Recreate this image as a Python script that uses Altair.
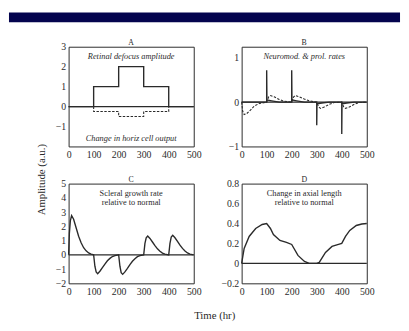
import altair as alt
import pandas as pd

FONT = "Liberation Serif"
INK = "#2a2a2a"
NAVY = "#04044e"
W, H = 128, 102

X_TICKS = [0, 100, 200, 300, 400, 500]
BASE_T = [0, 500]
BASE_V = [0, 0]

# Panel A: retinal defocus (solid) and horizontal cell output (dashed)
A_T = [0, 100, 100, 200, 200, 300, 300, 400, 400, 500]
A_V = [0, 0, 1, 1, 2, 2, 1, 1, 0, 0]
A_DT = [100, 100, 200, 200, 300, 300, 400, 400]
A_DV = [0, -0.25, -0.25, -0.5, -0.5, -0.25, -0.25, 0]
A_TICKS = [-1, 0, 1, 2, 3]

# Panel B: neuromodulator (solid spikes) and proliferation (dashed)
B_T = [0, 100, 100, 101, 120, 150, 200, 200, 201, 220, 250, 300, 300, 301, 320, 350,
       400, 400, 401, 420, 450, 500]
B_V = [0, 0, 0.72, 0.05, 0.03, 0, 0, 0.72, 0.05, 0.03, 0, 0, -0.52, -0.04, -0.02, 0,
       0, -0.72, -0.04, -0.02, 0, 0]
B_DT = [0, 4, 10, 20, 35, 50, 70, 100, 108, 115, 130, 150, 170, 200, 208, 215, 230,
        250, 270, 300, 308, 315, 330, 350, 370, 400, 408, 415, 430, 450, 470, 500]
B_DV = [0, -0.2, -0.28, -0.26, -0.18, -0.09, -0.03, 0, 0.12, 0.15, 0.12, 0.06, 0.02,
        0, 0.12, 0.15, 0.12, 0.07, 0.03, 0, -0.11, -0.14, -0.11, -0.05, -0.01,
        0, -0.11, -0.14, -0.11, -0.05, -0.01, 0]
B_TICKS = [-1, 0, 1]

# Panel C: scleral growth rate
C_T = [0, 3, 7, 12, 20, 30, 40, 50, 60, 70, 80, 90, 100,
       105, 110, 116, 125, 135, 145, 155, 165, 175, 185, 200,
       205, 210, 216, 225, 235, 245, 255, 265, 275, 285, 300,
       305, 310, 316, 325, 335, 345, 355, 365, 375, 385, 400,
       405, 410, 416, 425, 435, 445, 455, 465, 475, 485, 500]
C_V = [0, 1.5, 2.4, 2.75, 2.5, 1.9, 1.3, 0.85, 0.5, 0.28, 0.13, 0.05, 0,
       -0.8, -1.2, -1.32, -1.15, -0.9, -0.65, -0.42, -0.25, -0.12, -0.05, 0,
       -0.8, -1.25, -1.37, -1.2, -0.95, -0.68, -0.45, -0.27, -0.13, -0.05, 0,
       0.8, 1.2, 1.32, 1.15, 0.9, 0.65, 0.42, 0.25, 0.12, 0.05, 0,
       0.8, 1.25, 1.37, 1.2, 0.95, 0.68, 0.45, 0.27, 0.13, 0.05, 0]
C_TICKS = [-2, -1, 0, 1, 2, 3, 4, 5]

# Panel D: change in axial length
D_T = [0, 10, 30, 56, 82, 100, 115, 127, 153, 179, 200, 225, 251, 270, 300, 310,
       335, 361, 387, 400, 415, 432, 458, 480, 500]
D_V = [0, 0.15, 0.27, 0.35, 0.39, 0.40, 0.35, 0.29, 0.23, 0.21, 0.19, 0.08, 0.02,
       0.0, 0.0, 0.01, 0.11, 0.17, 0.19, 0.2, 0.27, 0.33, 0.38, 0.395, 0.40]
D_TICKS = [-0.2, 0, 0.2, 0.4, 0.6, 0.8]


def frame(ts, vs):
    return pd.DataFrame({"t": ts, "v": vs, "i": list(range(len(ts)))})


def note(txt, px, py, size, italic):
    return (alt.Chart(pd.DataFrame({"label": [txt]}))
            .mark_text(font=FONT, fontSize=size, color=INK,
                       fontStyle="italic" if italic else "normal")
            .encode(x=alt.value(px), y=alt.value(py), text="label:N"))


def panel(letter, solid, dashed, ydom, yticks, fmt, notes, italic):
    x = alt.X("t:Q", scale=alt.Scale(domain=[0, 500], nice=False),
              axis=alt.Axis(values=X_TICKS, title=None))
    y = alt.Y("v:Q", scale=alt.Scale(domain=ydom, nice=False, zero=False),
              axis=alt.Axis(values=yticks, title=None, format=fmt))
    layers = [
        alt.Chart(frame(BASE_T, BASE_V)).mark_line(color=INK, strokeWidth=1.3)
        .encode(x=x, y=y, order="i:Q"),
        alt.Chart(frame(*solid)).mark_line(color=INK, strokeWidth=1.4)
        .encode(x=x, y=y, order="i:Q"),
    ]
    if dashed is not None:
        layers.append(
            alt.Chart(frame(*dashed)).mark_line(color=INK, strokeWidth=1.1,
                                                strokeDash=[2.5, 1.5])
            .encode(x=x, y=y, order="i:Q"))
    for txt, py in notes:
        layers.append(note(txt, W / 2, py, 8.5, italic))
    layers.append(note(letter, W / 2, -4, 8, False))
    return alt.layer(*layers).properties(width=W, height=H)


pa = panel("A", (A_T, A_V), (A_DT, A_DV), [-2, 3], A_TICKS, "d",
           [("Retinal defocus amplitude", 10), ("Change in horiz cell output", 93)], True)
pb = panel("B", (B_T, B_V), (B_DT, B_DV), [-1, 1.25], B_TICKS, "d",
           [("Neuromod. & prol. rates", 10)], True)
pc = panel("C", (C_T, C_V), None, [-2, 5], C_TICKS, "d",
           [("Scleral growth rate", 10), ("relative to normal", 19)], False)
pd_ = panel("D", (D_T, D_V), None, [-0.2, 0.8], D_TICKS, "~g",
            [("Change in axial length", 10), ("relative to normal", 19)], False)

grid = alt.concat(pa, pb, pc, pd_, columns=2, spacing={"row": 15, "column": 19}).properties(
    title=alt.TitleParams("Time (hr)", orient="bottom", anchor="middle", font=FONT,
                          fontSize=11, fontWeight="normal", color=INK, offset=14))

body = alt.hconcat(grid).properties(
    title=alt.TitleParams("Amplitude (a.u.)", orient="left", anchor="middle", font=FONT,
                          fontSize=11, fontWeight="normal", color=INK, offset=8))

spacer = alt.Chart(pd.DataFrame({"k": [0]})).mark_rect(opacity=0).encode(
    x=alt.value(0), x2=alt.value(1), y=alt.value(0), y2=alt.value(1)
).properties(width=26, height=1, view=alt.ViewBackground(stroke="transparent"))

strip = alt.Chart(pd.DataFrame({"k": [0]})).mark_rect(color=NAVY).encode(
    x=alt.value(0), x2=alt.value(400), y=alt.value(0), y2=alt.value(10)
).properties(width=400, height=10, view=alt.ViewBackground(stroke="transparent"))

chart = alt.vconcat(strip, alt.hconcat(spacer, body, spacing=0), spacing=15).properties(
    padding=0, background="white"
).configure_view(stroke=INK, strokeWidth=1).configure_axis(
    labelFont=FONT, labelFontSize=10, labelColor=INK, ticks=False, domain=False,
    grid=False, labelPadding=3, labelFlush=False
).configure_concat(spacing=0)

chart.save("out.html", embed_options={"renderer": "svg", "actions": False})
